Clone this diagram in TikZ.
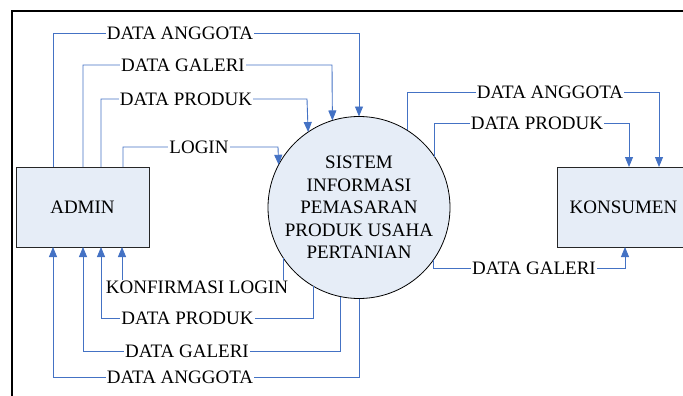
\documentclass[tikz,border=0pt]{standalone}
\usepackage{fontspec}
\setmainfont{Liberation Serif}
\usetikzlibrary{arrows.meta}
\definecolor{flowc}{HTML}{4472C4}
\definecolor{boxc}{HTML}{E6EDF7}
\begin{document}
\begin{tikzpicture}[x=1pt,y=-1pt,
  font=\fontsize{19}{22.5}\selectfont,
  flow/.style={draw=flowc, line width=0.9pt, -{Triangle[length=10pt,width=8pt]}},
  lab/.style={fill=white, inner sep=1pt},
  ent/.style={draw=black!85, fill=boxc, line width=0.8pt, minimum width=133pt, minimum height=80pt, inner sep=0pt, outer sep=0pt},
  proc/.style={circle, draw=black, fill=boxc, minimum size=182pt, inner sep=0pt, outer sep=0pt, align=center, line width=0.8pt}]
\useasboundingbox (0,0) rectangle (683,396);
\clip (0,0) rectangle (683,396);
\draw[line width=1.8pt] (12,396) -- (12,11) -- (683,11);

\node[ent] (admin) at (82.5,207) {ADMIN};
\node[proc] (sis) at (359,207.5) {SISTEM\\INFORMASI\\PEMASARAN\\PRODUK USAHA\\PERTANIAN};
\node[ent] (kons) at (623.5,207) {KONSUMEN};

% admin -> system
\draw[flow] ([xshift=37pt]admin.north west) |- (359,33) -- (sis.north);
\draw[flow] ([xshift=67pt]admin.north west) |- (332,65) -- (sis.107.26);
\draw[flow] ([xshift=85pt]admin.north west) |- (307,99) -- (sis.124.85);
\draw[flow] ([xshift=107pt]admin.north west) |- (278,147) -- (sis.152.9);
% system -> admin
\draw[flow] (sis.214.5) |- (122,287) -- ([xshift=106pt]admin.south west);
\draw[flow] (sis.240.4) |- (101,318) -- ([xshift=85pt]admin.south west);
\draw[flow] (sis.258.6) |- (83,351) -- ([xshift=67pt]admin.south west);
\draw[flow] (sis.south) |- (53,377) -- ([xshift=37pt]admin.south west);
% system -> konsumen
\draw[flow] (sis.58.9) |- (659,92) -- ([xshift=102pt]kons.north west);
\draw[flow] (sis.34.5) |- (629,123) -- ([xshift=72pt]kons.north west);
\draw[flow] (sis.325.5) |- (625,268) -- ([xshift=68pt]kons.south west);

% labels
\node[lab] (l1) at (180,33) {DATA ANGGOTA};
\node[lab] (l2) at (183,65) {DATA GALERI};
\node[lab] (l3) at (186,99) {DATA PRODUK};
\node[lab] (l4) at (199,147) {LOGIN};
\node[lab] (l5) at (197,287) {KONFIRMASI LOGIN};
\node[lab] (l6) at (187.5,318) {DATA PRODUK};
\node[lab] (l7) at (187,351) {DATA GALERI};
\node[lab] (l8) at (180,377) {DATA ANGGOTA};
\node[lab] (l9) at (550,92) {DATA ANGGOTA};
\node[lab] (l10) at (537,123) {DATA PRODUK};
\node[lab] (l11) at (534,268) {DATA GALERI};
\end{tikzpicture}
\end{document}
